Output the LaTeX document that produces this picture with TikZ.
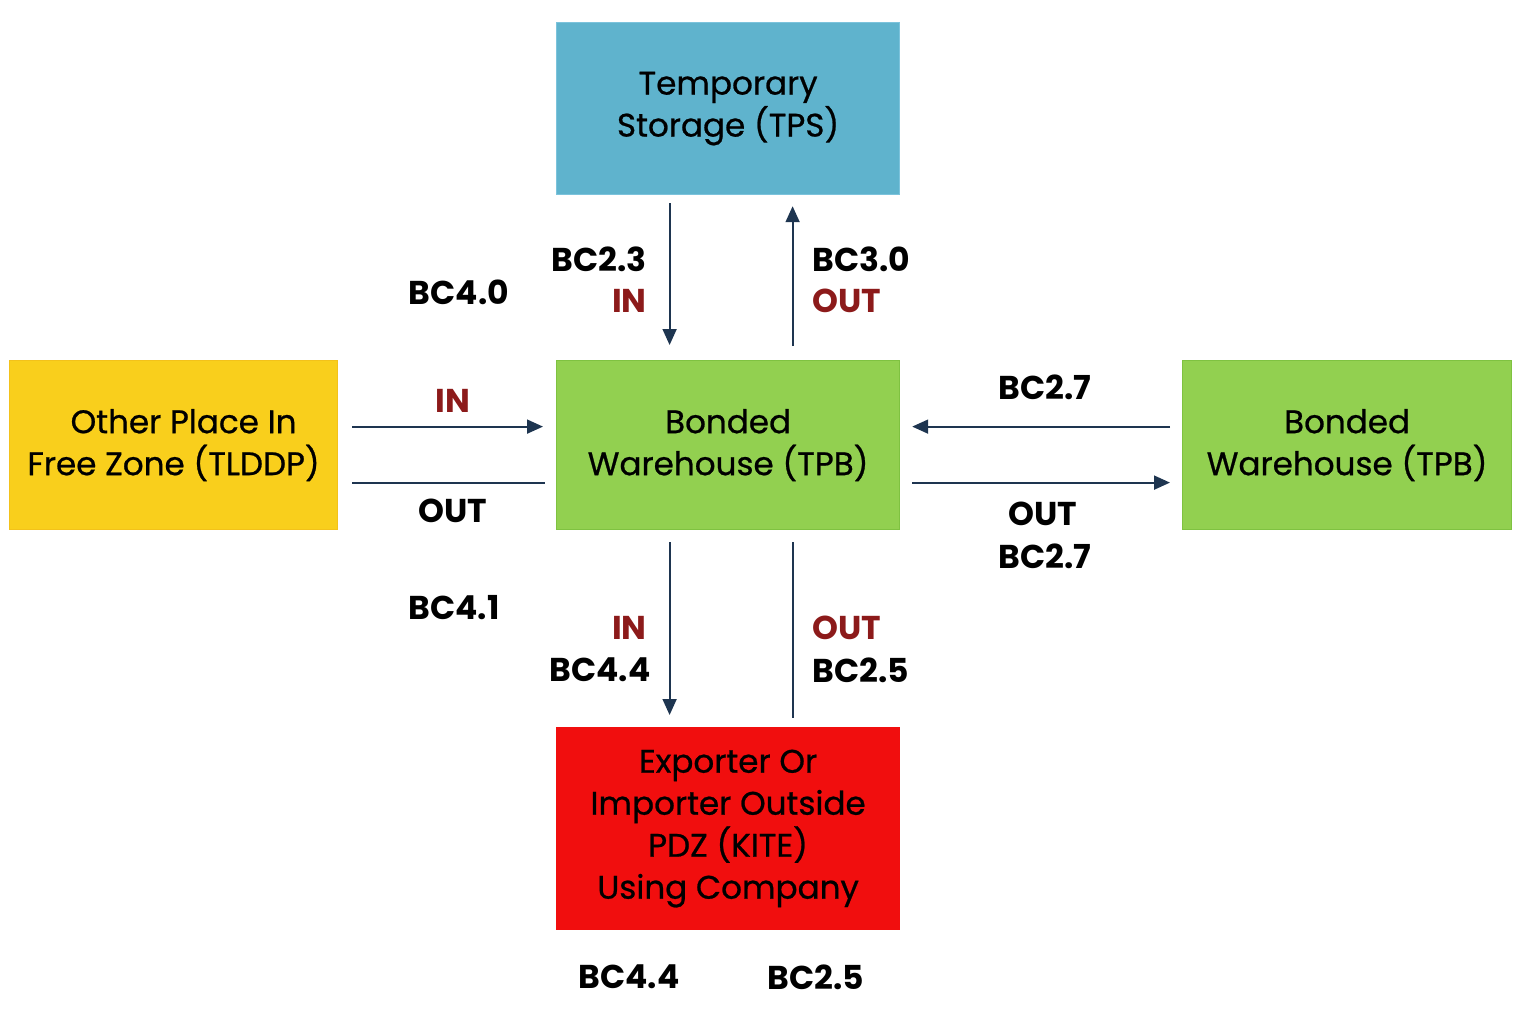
\documentclass[tikz,border=0pt]{standalone}
\usepackage{fontspec}
\setmainfont{Poppins}
\newfontfamily\medfont[FakeBold=0.7]{Poppins}
\usetikzlibrary{arrows.meta}
\definecolor{tpsblue}{HTML}{5FB3CD}
\definecolor{tpsedge}{HTML}{7CC3DC}
\definecolor{tpbgreen}{HTML}{92D050}
\definecolor{tpbedge}{HTML}{7FC241}
\definecolor{zoneyel}{HTML}{F9CF1C}
\definecolor{zoneedge}{HTML}{F3C21A}
\definecolor{kitered}{HTML}{F10E0E}
\definecolor{navy}{HTML}{1E3550}
\definecolor{lblred}{HTML}{8C1A1A}
\tikzset{
  box/.style={anchor=north west, inner sep=0pt, align=center, text=black,
    font=\medfont\fontsize{16.3}{21}\selectfont, line width=0.6pt},
  arr/.style={draw=navy, line width=0.9pt, -{Triangle[length=8pt,width=7pt]}},
  ln/.style={draw=navy, line width=0.9pt},
  lbl/.style={font=\fontsize{16.5}{21}\selectfont\bfseries, text=black, inner sep=0pt},
  rlbl/.style={lbl, text=lblred}
}
\begin{document}
\begin{tikzpicture}[x=0.5pt,y=-0.5pt]
\useasboundingbox (0,0) rectangle (1536,1024);
% boxes
\node[box, fill=tpsblue, draw=tpsedge, minimum width=171.5pt, minimum height=86pt] (tps) at (556,22) {Temporary\\ Storage (TPS)};
\node[box, fill=tpbgreen, draw=tpbedge, minimum width=171.5pt, minimum height=84.5pt] (tpb) at (556,360) {Bonded\\ Warehouse (TPB)};
\node[box, fill=zoneyel, draw=zoneedge, minimum width=164pt, minimum height=84.5pt] (tld) at (9,360) {\hspace*{10pt}Other Place In\\ Free Zone (TLDDP)};
\node[box, fill=tpbgreen, draw=tpbedge, minimum width=164.5pt, minimum height=84.5pt] (tpr) at (1182,360) {Bonded\\ Warehouse (TPB)};
\node[box, fill=kitered, draw=kitered, minimum width=171.5pt, minimum height=101pt] (kite) at (556,727) {Exporter Or\\ Importer Outside\\ PDZ (KITE)\\ Using Company};
% connectors
\draw[arr, shorten <=4pt, shorten >=7.5pt] ([xshift=-29.25pt]tps.south) -- ([xshift=-29.25pt]tpb.north);
\draw[arr, shorten <=7pt, shorten >=5.5pt] ([xshift=32.25pt]tpb.north) -- ([xshift=32.25pt]tps.south);
\draw[arr, shorten <=7pt, shorten >=6.5pt] ([yshift=9.25pt]tld.east) -- ([yshift=9.25pt]tpb.west);
\draw[ln, shorten <=7pt, shorten >=5.5pt] ([yshift=-18.75pt]tld.east) -- ([yshift=-18.75pt]tpb.west);
\draw[arr, shorten <=6pt, shorten >=6pt] ([yshift=9.25pt]tpr.west) -- ([yshift=9.25pt]tpb.east);
\draw[arr, shorten <=6pt, shorten >=6pt] ([yshift=-18.75pt]tpb.east) -- ([yshift=-18.75pt]tpr.west);
\draw[arr, shorten <=6pt, shorten >=6pt] ([xshift=-29.25pt]tpb.south) -- ([xshift=-29.25pt]kite.north);
\draw[ln, shorten <=6pt, shorten >=4.5pt] ([xshift=32.25pt]tpb.south) -- ([xshift=32.25pt]kite.north);
% labels
\node[lbl] (l40) at (459,292) {BC4.0};
\node[lbl, anchor=east] (l23) at (647,259) {BC2.3};
\node[rlbl, anchor=east] (l23in) at (647,301) {IN};
\node[lbl, anchor=west] (l30) at (812,259) {BC3.0};
\node[rlbl, anchor=west] (l30out) at (812,301) {OUT};
\node[rlbl] (lin) at (453,401) {IN};
\node[lbl] (lout) at (453,511) {OUT};
\node[lbl] (l27a) at (1045,387) {BC2.7};
\node[lbl] (l27out) at (1043,514) {OUT};
\node[lbl] (l27b) at (1045,556) {BC2.7};
\node[lbl] (l41) at (454,608) {BC4.1};
\node[rlbl, anchor=east] (l44in) at (647,628) {IN};
\node[lbl, anchor=east] (l44) at (651,670) {BC4.4};
\node[rlbl, anchor=west] (l25out) at (812,628) {OUT};
\node[lbl, anchor=west] (l25) at (812,670) {BC2.5};
\node[lbl] (b44) at (629,977) {BC4.4};
\node[lbl] (b25) at (816,977) {BC2.5};
\end{tikzpicture}
\end{document}
